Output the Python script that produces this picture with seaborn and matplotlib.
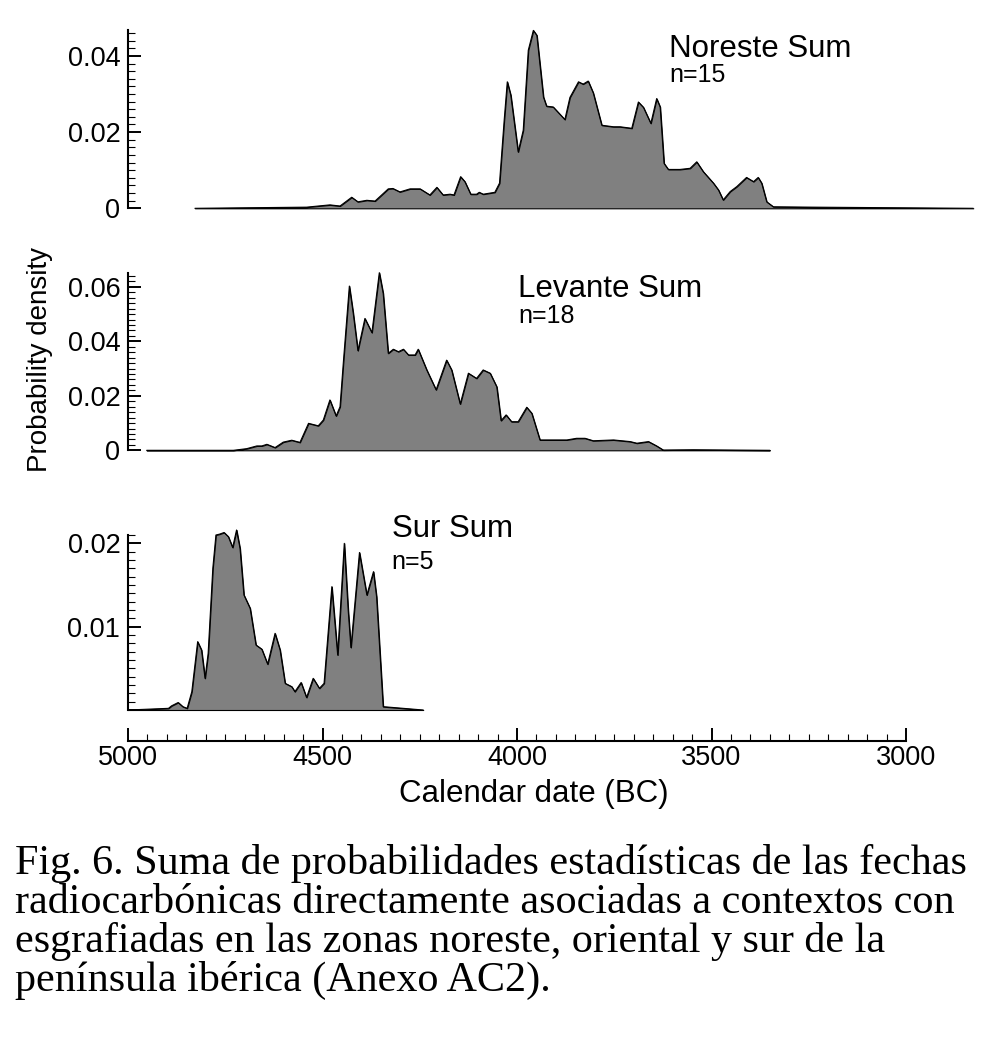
import numpy as np
import pandas as pd
import matplotlib
matplotlib.use("Agg")
import matplotlib.pyplot as plt
import seaborn as sns
from matplotlib.ticker import FixedLocator, FixedFormatter

# ---------------- data (calendar years BC, summed probability density) -------------
noreste_year = [4828, 4541, 4481, 4455, 4425, 4409, 4386, 4365, 4331, 4319, 4301, 4275,
                4249, 4224, 4206, 4190, 4172, 4162, 4145, 4134, 4119, 4104, 4097, 4087,
                4057, 4045, 4033, 4025, 4016, 3997, 3984, 3971, 3958, 3949, 3932, 3924,
                3907, 3877, 3864, 3842, 3830, 3817, 3804, 3782, 3752, 3735, 3705, 3688,
                3675, 3656, 3641, 3632, 3622, 3611, 3581, 3555, 3538, 3521, 3495, 3482,
                3470, 3452, 3435, 3410, 3392, 3380, 3371, 3358, 3341, 3238, 2827]
noreste_density = [0.0, 0.0003, 0.0009, 0.0006, 0.0029, 0.0017, 0.0021, 0.0019, 0.0051, 0.0052,
                   0.0043, 0.0051, 0.0051, 0.0035, 0.0055, 0.0035, 0.0037, 0.0035, 0.0083, 0.0070,
                   0.0037, 0.0037, 0.0042, 0.0037, 0.0042, 0.0066, 0.0231, 0.0332, 0.0297, 0.0148,
                   0.0205, 0.0415, 0.0467, 0.0454, 0.0292, 0.0268, 0.0266, 0.0233, 0.0291, 0.0332,
                   0.0326, 0.0334, 0.0303, 0.0218, 0.0214, 0.0214, 0.0210, 0.0279, 0.0265, 0.0223,
                   0.0288, 0.0266, 0.0118, 0.0102, 0.0102, 0.0105, 0.0122, 0.0096, 0.0066, 0.0048,
                   0.0022, 0.0044, 0.0057, 0.0081, 0.0070, 0.0081, 0.0066, 0.0017, 0.0004, 0.0003,
                   0.0]

levante_year = [4952, 4729, 4695, 4669, 4656, 4643, 4622, 4601, 4579, 4558, 4536, 4511,
                4498, 4481, 4465, 4455, 4446, 4431, 4421, 4409, 4391, 4373, 4354, 4344,
                4331, 4318, 4305, 4292, 4279, 4262, 4254, 4232, 4208, 4181, 4168, 4146,
                4125, 4104, 4087, 4069, 4052, 4041, 4028, 4014, 3997, 3975, 3962, 3941,
                3872, 3847, 3825, 3804, 3752, 3709, 3692, 3662, 3641, 3624, 3547, 3350]
levante_density = [0.0, 0.0, 0.0006, 0.0016, 0.0016, 0.0022, 0.0010, 0.0030, 0.0037, 0.0029,
                   0.0099, 0.0090, 0.0111, 0.0185, 0.0126, 0.0160, 0.0331, 0.0603, 0.0503, 0.0366,
                   0.0484, 0.0432, 0.0652, 0.0576, 0.0356, 0.0371, 0.0362, 0.0371, 0.0350, 0.0350,
                   0.0371, 0.0295, 0.0222, 0.0331, 0.0295, 0.0170, 0.0283, 0.0264, 0.0295, 0.0283,
                   0.0233, 0.0109, 0.0130, 0.0105, 0.0105, 0.0158, 0.0136, 0.0038, 0.0038, 0.0044,
                   0.0044, 0.0035, 0.0038, 0.0032, 0.0026, 0.0032, 0.0016, 0.0001, 0.0002, 0.0]

sur_year = [5000, 4896, 4888, 4871, 4859, 4848, 4836, 4821, 4811, 4802, 4794, 4782,
            4774, 4765, 4753, 4742, 4731, 4721, 4712, 4702, 4686, 4671, 4656, 4641,
            4622, 4609, 4596, 4579, 4571, 4555, 4541, 4524, 4508, 4496, 4476, 4461,
            4444, 4434, 4427, 4405, 4386, 4369, 4361, 4344, 4241]
sur_density = [0.0, 0.0002, 0.0005, 0.0009, 0.0004, 0.0002, 0.0022, 0.0082, 0.0072, 0.0038,
               0.0068, 0.0170, 0.0210, 0.0211, 0.0213, 0.0208, 0.0195, 0.0216, 0.0194, 0.0138,
               0.0122, 0.0078, 0.0073, 0.0055, 0.0092, 0.0072, 0.0032, 0.0028, 0.0022, 0.0033,
               0.0015, 0.0038, 0.0026, 0.0032, 0.0148, 0.0066, 0.0200, 0.0120, 0.0075, 0.0189,
               0.0138, 0.0166, 0.0136, 0.0004, 0.0]

panel_titles = ["Noreste Sum", "Levante Sum", "Sur Sum"]
panel_counts = ["n=15", "n=18", "n=5"]

noreste_yticks = [0.0, 0.02, 0.04]
noreste_ylabels = ["0", "0.02", "0.04"]
levante_yticks = [0.0, 0.02, 0.04, 0.06]
levante_ylabels = ["0", "0.02", "0.04", "0.06"]
sur_yticks = [0.0, 0.01, 0.02]
sur_ylabels = ["", "0.01", "0.02"]

x_ticks = [5000, 4500, 4000, 3500, 3000]
x_ticklabels = ["5000", "4500", "4000", "3500", "3000"]

caption_lines = [
    "Fig. 6. Suma de probabilidades estadísticas de las fechas",
    "radiocarbónicas directamente asociadas a contextos con",
    "esgrafiadas en las zonas noreste, oriental y sur de la",
    "península ibérica (Anexo AC2).",
]

# ---------------- styling ----------------
sns.set_theme(style="white")
plt.rcParams["font.family"] = ["Liberation Sans", "DejaVu Sans"]
plt.rcParams["axes.edgecolor"] = "black"

W, H = 1005, 1047
fig = plt.figure(figsize=(W / 100, H / 100), dpi=100)
fig.patch.set_facecolor("white")

def fx(px):
    return px / W

def fy(py):
    return 1 - py / H

X_LEFT = 128
X_WIDTH = 855.8  # 5000 -> 2800 BC
XLIM = (5000, 2800)

def make_panel(top, bottom, years, dens, ymax, yticks, ylabels, minor_step):
    ax = fig.add_axes([fx(X_LEFT), fy(bottom), X_WIDTH / W, (bottom - top) / H])
    ax.set_facecolor("none")
    df = pd.DataFrame({"year": years, "density": dens})
    ax.fill_between(df["year"], df["density"], 0, facecolor="#808080",
                    edgecolor="black", linewidth=0.8, clip_on=False, zorder=2)
    sns.lineplot(data=df, x="year", y="density", ax=ax, color="black",
                 linewidth=0.8, clip_on=False, zorder=3)
    ax.set_xlim(*XLIM)
    ax.set_ylim(0, ymax)
    ax.set_xlabel("")
    ax.set_ylabel("")
    for s in ["top", "right", "bottom"]:
        ax.spines[s].set_visible(False)
    ax.spines["left"].set_linewidth(1.5)
    ax.spines["left"].set_color("black")
    ax.yaxis.set_major_locator(FixedLocator(yticks))
    ax.yaxis.set_major_formatter(FixedFormatter(ylabels))
    n_minor = int(round(ymax / minor_step))
    ax.yaxis.set_minor_locator(FixedLocator([i * minor_step for i in range(n_minor + 1)]))
    ax.tick_params(axis="y", which="major", direction="in", length=9.5, width=1.4,
                   color="black", labelcolor="black", labelsize=19.5, pad=5.5, left=True)
    ax.tick_params(axis="y", which="minor", direction="in", length=4.8, width=0.8,
                   color="black", left=True)
    ax.set_xticks([])
    return ax

ax1 = make_panel(30, 208.3, noreste_year, noreste_density, 0.0468,
                 noreste_yticks, noreste_ylabels, 0.002)
ax2 = make_panel(272.7, 450.3, levante_year, levante_density, 0.0652,
                 levante_yticks, levante_ylabels, 0.002)
ax3 = make_panel(535, 710, sur_year, sur_density, 0.021,
                 sur_yticks, sur_ylabels, 0.001)

# shared calendar axis drawn on the bottom panel
ax3.spines["bottom"].set_visible(True)
ax3.spines["bottom"].set_position(("outward", 22.3))
ax3.spines["bottom"].set_bounds(5000, 3000)
ax3.spines["bottom"].set_linewidth(1.5)
ax3.spines["bottom"].set_color("black")
ax3.xaxis.set_major_locator(FixedLocator(x_ticks))
ax3.xaxis.set_major_formatter(FixedFormatter(x_ticklabels))
ax3.xaxis.set_minor_locator(FixedLocator(list(range(3000, 5001, 50))))
ax3.tick_params(axis="x", which="major", direction="in", length=9.5, width=1.4,
                color="black", labelcolor="black", labelsize=19.5, pad=3, bottom=True)
ax3.tick_params(axis="x", which="minor", direction="in", length=4.8, width=0.8,
                color="black", bottom=True)

# panel annotations
title_pos = [(669, 57), (518, 297), (392, 537)]
count_pos = [(669, 82), (518, 323), (391, 569)]
for t, c, (tx, ty), (cx, cy) in zip(panel_titles, panel_counts, title_pos, count_pos):
    fig.text(fx(tx), fy(ty), t, fontsize=22.5, ha="left", va="baseline", color="black")
    fig.text(fx(cx), fy(cy), c, fontsize=18, ha="left", va="baseline", color="black")

fig.text(fx(40), fy(359), "Probability density", rotation=90, fontsize=20,
         ha="center", va="center", color="black")
fig.text(fx(534), fy(802), "Calendar date (BC)", fontsize=22.5,
         ha="center", va="baseline", color="black")

# caption
cap_base = [874, 913, 952, 991]
for line, b in zip(caption_lines, cap_base):
    fig.text(fx(15), fy(b), line, fontsize=30.3, ha="left", va="baseline",
             family=["Liberation Serif", "DejaVu Serif"], color="black")

fig.savefig("out.png", dpi=100, facecolor="white")
